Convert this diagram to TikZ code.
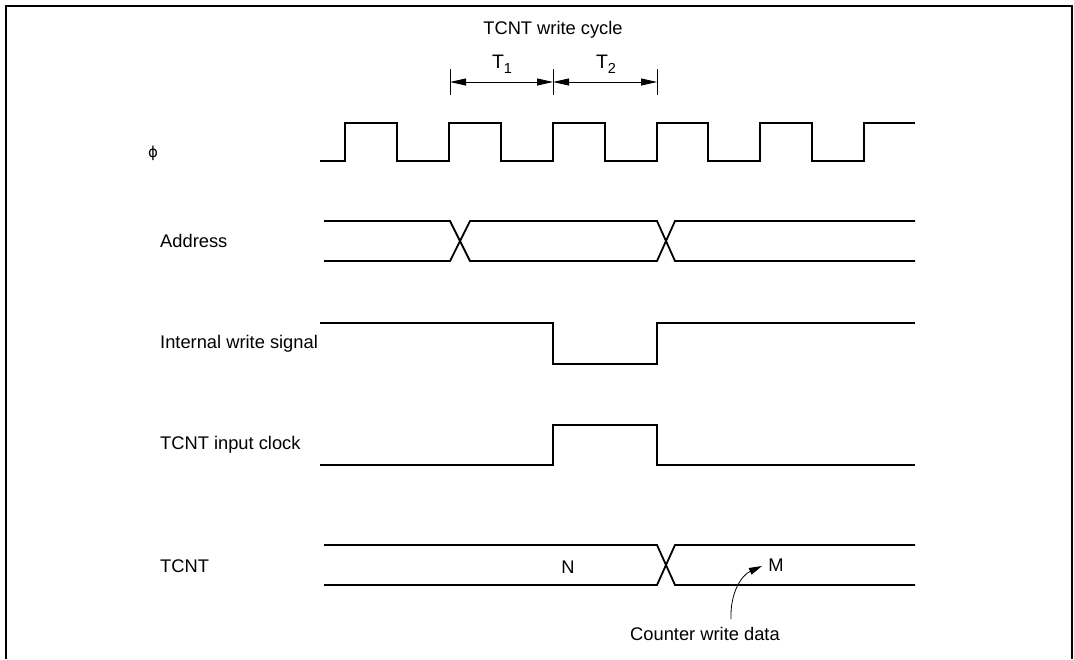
\documentclass[tikz,border=0pt]{standalone}
\usepackage{fontspec}
\setmainfont{Liberation Sans}
\newfontfamily\djv{DejaVu Sans}
\usetikzlibrary{arrows.meta}
\newcommand{\subl}[1]{\raisebox{-5pt}{\fontsize{14.5}{15}\selectfont #1}}
\begin{document}
\begin{tikzpicture}[x=1pt,y=-1pt,
  sig/.style={line width=1.8pt, line join=miter},
  lbl/.style={font=\fontsize{18.3}{21}\selectfont, inner sep=0pt},
  tlbl/.style={font=\fontsize{19.5}{21}\selectfont, inner sep=0pt},
  tick/.style={line width=0.8pt},
  dimarrow/.style={line width=0.8pt, {Triangle[length=16pt,width=7pt]}-{Triangle[length=16pt,width=7pt]}}]
\useasboundingbox (0,0) rectangle (1074,659);
% frame
\draw[line width=2pt] (6,659) -- (6,6) -- (1072,6) -- (1072,659);
% title and cycle marks
\node[lbl] (title) at (553,30) {TCNT write cycle};
\node[tlbl] (t1) at (502,64) {T\subl{1}};
\node[tlbl] (t2) at (606,64) {T\subl{2}};
\coordinate (k1) at (450,82);
\coordinate (k2) at (553,82);
\coordinate (k3) at (657,82);
\draw[tick] ([yshift=-13pt]k1) -- ([yshift=13pt]k1);
\draw[tick] ([yshift=-13pt]k2) -- ([yshift=13pt]k2);
\draw[tick] ([yshift=-13pt]k3) -- ([yshift=13pt]k3);
\draw[dimarrow] (k1) -- (k2);
\draw[dimarrow] (k2) -- (k3);
% labels
\node[lbl, anchor=west] (lphi) at (148,153) {\fontsize{15}{18}\djv ϕ};
\node[lbl, anchor=west] (laddr) at (160,241) {Address};
\node[lbl, anchor=west] (liw) at (160,344) {Internal write signal};
\node[lbl, anchor=west] (lclk) at (160,445) {TCNT input clock};
\node[lbl, anchor=west] (ltcnt) at (160,566) {TCNT};
% phi clock
\draw[sig] (320,161) -- (345,161) -- (345,123) -- (397,123) -- (397,161)
  -- (449,161) -- (449,123) -- (501,123) -- (501,161)
  -- (553,161) -- (553,123) -- (605,123) -- (605,161)
  -- (657,161) -- (657,123) -- (708,123) -- (708,161)
  -- (760,161) -- (760,123) -- (812,123) -- (812,161)
  -- (864,161) -- (864,123) -- (915,123);
% address
\draw[sig] (324,221) -- (450,221) -- (470,261) -- (657,261) -- (675,221) -- (915,221);
\draw[sig] (324,261) -- (450,261) -- (470,221) -- (657,221) -- (675,261) -- (915,261);
% internal write signal
\draw[sig] (320,323) -- (553,323) -- (553,364) -- (657,364) -- (657,323) -- (915,323);
% TCNT input clock
\draw[sig] (320,465) -- (553,465) -- (553,425) -- (657,425) -- (657,465) -- (915,465);
% TCNT
\draw[sig] (324,545) -- (657,545) -- (675,585) -- (915,585);
\draw[sig] (324,585) -- (657,585) -- (675,545) -- (915,545);
\node[lbl] (vn) at (568,567) {N};
\node[lbl] (vm) at (776,565) {M};
% counter write data
\node[lbl] (cwd) at (705,634) {Counter write data};
\coordinate (mtip) at (762,566);
\draw[line width=0.8pt, -{Triangle[length=13pt,width=7pt]}] ([xshift=26pt,yshift=8pt]cwd.north) .. controls (730,592) and (742,575) .. (mtip);
\end{tikzpicture}
\end{document}
